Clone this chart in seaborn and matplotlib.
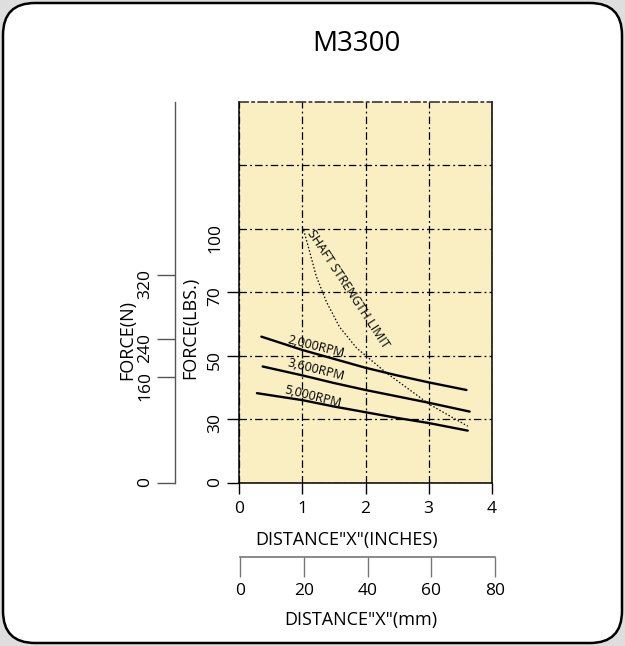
import numpy as np
import pandas as pd
import matplotlib
matplotlib.use("Agg")
import matplotlib.pyplot as plt
import seaborn as sns
from matplotlib.patches import FancyBboxPatch

# ---- data ----
title = "M3300"
x_inch_ticks = [0, 1, 2, 3, 4]
x_mm_ticks = [0, 20, 40, 60, 80]
y_lbs_ticks = [0, 30, 50, 70, 100]
y_lbs_grid_extra = [130]
# the lbs axis is drawn with equal spacing between 0/30/50/70/100/130/160
lbs_knots = [0, 30, 50, 70, 100, 130, 160]
n_tick_labels = ["0", "160", "240", "320"]
n_tick_pos_lbs = [0, 43.3, 55.2, 78.1]

dist_2000 = [0.35, 1.0, 1.5, 2.0, 2.5, 3.0, 3.6]
force_2000 = [56.0, 51.8, 49.0, 46.2, 43.8, 41.6, 39.2]
dist_3600 = [0.37, 1.0, 1.5, 2.0, 2.5, 3.0, 3.65]
force_3600 = [46.6, 43.8, 41.4, 39.2, 37.2, 35.2, 32.4]
dist_5000 = [0.28, 1.0, 1.5, 2.0, 2.5, 3.0, 3.62]
force_5000 = [38.2, 36.0, 34.0, 32.2, 30.4, 28.2, 24.6]
dist_shaft = [1.02, 1.12, 1.22, 1.38, 1.59, 1.86, 2.33, 3.02, 3.62]
force_shaft = [99.4, 88.6, 77.5, 67.0, 59.0, 52.4, 44.6, 34.6, 26.7]

speed_labels = ["2,000RPM", "3,600RPM", "5,000RPM"]
label_x = [1.22, 1.21, 1.17]
label_lbs = [52.8, 45.6, 37.0]

df = pd.concat([
    pd.DataFrame({"x": dist_2000, "lbs": force_2000, "speed": "2000"}),
    pd.DataFrame({"x": dist_3600, "lbs": force_3600, "speed": "3600"}),
    pd.DataFrame({"x": dist_5000, "lbs": force_5000, "speed": "5000"}),
])
shaft = pd.DataFrame({"x": dist_shaft, "lbs": force_shaft})

sns.set_style("white")
plt.rcParams["font.family"] = ["Open Sans", "DejaVu Sans"]
plt.rcParams["text.color"] = "black"
plt.rcParams["axes.labelcolor"] = "black"
plt.rcParams["xtick.color"] = "black"
plt.rcParams["ytick.color"] = "black"

levels = np.arange(len(lbs_knots))
fwd = lambda v: np.interp(v, lbs_knots, levels)
inv = lambda v: np.interp(v, levels, lbs_knots)

fig = plt.figure(figsize=(6.25, 6.46), dpi=100)
fig.patch.set_facecolor("#dedede")
box = FancyBboxPatch((0.03, 0.03), 6.19, 6.40,
                     boxstyle="round,pad=0,rounding_size=0.32",
                     transform=fig.dpi_scale_trans, facecolor="white",
                     edgecolor="black", linewidth=1.8, zorder=-5)
fig.patches.append(box)

fig.text(356 / 625, 1 - 44 / 646, title, ha="center", va="center", fontsize=20)

ax = fig.add_axes([239.3 / 625, 163.3 / 646, 252.4 / 625, 381 / 646])
ax.set_facecolor("#f9efc3")
ax.set_yscale("function", functions=(fwd, inv))
ax.set_ylim(lbs_knots[0], lbs_knots[-1])
ax.set_xlim(x_inch_ticks[0], x_inch_ticks[-1])

dash = (0, (6, 2.5, 1.5, 2.5))
ax.set_xticks(x_inch_ticks)
ax.set_yticks(y_lbs_ticks)
ax.set_yticks(y_lbs_grid_extra, minor=True)
ax.grid(True, which="both", color="black", linestyle=dash, linewidth=0.9)
ax.tick_params(axis="y", which="minor", length=0)
ax.tick_params(axis="y", which="major", left=True, length=9, width=1,
               color="black", labelrotation=90, labelsize=12.5, pad=2.5)
ax.tick_params(axis="x", bottom=True, length=8, width=1, color="black",
               labelsize=12.5, pad=5)
ax.yaxis.get_major_ticks()[4].tick1line.set_visible(False)

for s in ["left", "bottom", "right"]:
    ax.spines[s].set_color("black")
    ax.spines[s].set_linewidth(1.1)
ax.spines["top"].set_linestyle(dash)
ax.spines["top"].set_linewidth(1.1)

sns.lineplot(data=df, x="x", y="lbs", units="speed", estimator=None,
             sort=False, color="black", linewidth=1.7, ax=ax)
sns.lineplot(data=shaft, x="x", y="lbs", sort=False, color="black",
             linewidth=0.9, linestyle=(0, (1.2, 1.6)), ax=ax)

small = ["Liberation Sans Narrow", "Open Sans", "DejaVu Sans"]
for t, xx, yy in zip(speed_labels, label_x, label_lbs):
    ax.text(xx, yy, t, ha="center", va="center", rotation=-14,
            fontsize=9, family=small)
ax.text(1.72, 71.5, "SHAFT STRENGTH LIMIT", ha="center", va="center",
        rotation=-56.7, fontsize=9, family=small)

ax.set_xlabel('DISTANCE"X"(INCHES)', fontsize=13)
ax.xaxis.label.set_verticalalignment("center")
ax.xaxis.set_label_coords(347 / 625, 1 - 540 / 646, transform=fig.transFigure)
ax.set_ylabel("FORCE(LBS.)", fontsize=13)
ax.yaxis.label.set_verticalalignment("center")
ax.yaxis.set_label_coords(190 / 625, 1 - 328 / 646, transform=fig.transFigure)

# newton axis on the far left
axn = fig.add_axes([175.3 / 625, 163.3 / 646, 0.001, 381 / 646])
axn.patch.set_visible(False)
axn.set_yscale("function", functions=(fwd, inv))
axn.set_ylim(lbs_knots[0], lbs_knots[-1])
axn.set_xticks([])
for s in ["top", "bottom", "right"]:
    axn.spines[s].set_visible(False)
axn.spines["left"].set_color("#555555")
axn.spines["left"].set_linewidth(1.0)
axn.set_yticks(n_tick_pos_lbs)
axn.set_yticklabels(n_tick_labels)
axn.tick_params(axis="y", left=True, length=13, width=1, color="#555555",
                labelrotation=90, labelsize=12.5, pad=3)
axn.set_ylabel("FORCE(N)", fontsize=13)
axn.yaxis.label.set_verticalalignment("center")
axn.yaxis.set_label_coords(127 / 625, 1 - 340 / 646, transform=fig.transFigure)

# millimetre axis below
axm = fig.add_axes([240 / 625, 89 / 646, 255 / 625, 10 / 646])
axm.patch.set_visible(False)
axm.set_xlim(x_mm_ticks[0], x_mm_ticks[-1])
axm.set_yticks([])
axm.set_xticks(x_mm_ticks)
for s in ["top", "left", "right"]:
    axm.spines[s].set_visible(False)
axm.spines["bottom"].set_color("#777777")
axm.spines["bottom"].set_linewidth(1.2)
axm.tick_params(axis="x", bottom=True, length=14.5, width=1, color="#777777",
                labelsize=12.5, pad=4)
axm.set_xlabel('DISTANCE"X"(mm)', fontsize=13)
axm.xaxis.label.set_verticalalignment("center")
axm.xaxis.set_label_coords(361 / 625, 1 - 620 / 646, transform=fig.transFigure)

fig.savefig("out.png", dpi=100)
